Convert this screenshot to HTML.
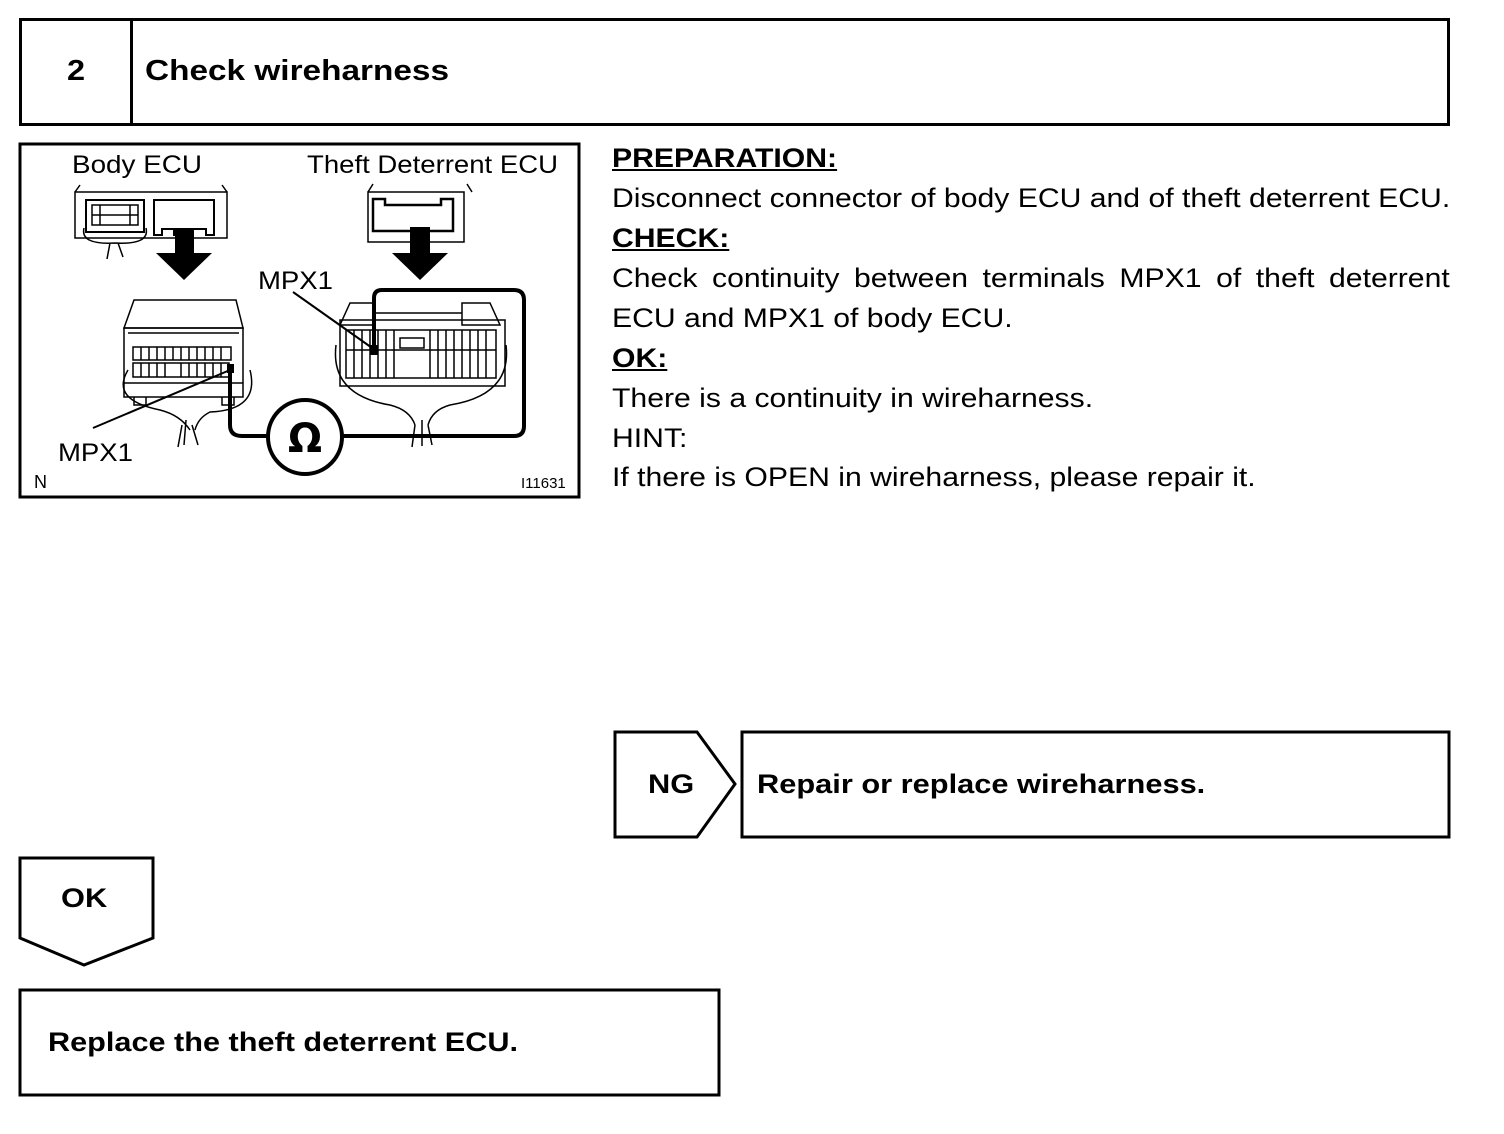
<!DOCTYPE html>
<html><head><style>
body{margin:0;width:1504px;height:1134px;background:#fff;position:relative;overflow:hidden;font-family:"Liberation Sans",Arial,sans-serif;color:#000}
.a{position:absolute;transform-origin:0 0;white-space:nowrap}
.t{position:absolute;left:612px;font-size:27px;line-height:40px;white-space:nowrap;transform:scaleX(1.117);transform-origin:0 0}
.b{font-weight:bold}
.u{text-decoration:underline;font-weight:bold}
</style></head><body>
<div class="a" style="left:19px;top:18px;width:1425px;height:102px;border:3px solid #000"></div>
<div class="a" style="left:130px;top:18px;width:3px;height:108px;background:#000"></div>
<div class="a b" style="left:67px;top:55px;font-size:29px;transform:scaleX(1.12)">2</div>
<div class="a b" style="left:145px;top:55px;font-size:29px;transform:scaleX(1.15)">Check wireharness</div>

<svg class="a" style="left:0;top:0" width="1504" height="1134">
<rect x="20" y="144" width="559" height="353" fill="none" stroke="#000" stroke-width="3"/>
<g font-family="Liberation Sans, Arial, sans-serif" font-size="25">
<text x="72" y="173" textLength="130" lengthAdjust="spacingAndGlyphs">Body ECU</text>
<text x="307" y="173" textLength="251" lengthAdjust="spacingAndGlyphs">Theft Deterrent ECU</text>
<text x="258" y="289" textLength="75" lengthAdjust="spacingAndGlyphs">MPX1</text>
<text x="58" y="461" textLength="75" lengthAdjust="spacingAndGlyphs">MPX1</text>
</g>
<text x="34" y="488" font-family="Liberation Sans" font-size="18">N</text>
<text x="521" y="488" font-family="Liberation Sans" font-size="15">I11631</text>
<g fill="none" stroke="#000" stroke-width="1.5">
<path d="M75 192 L80 185 M227 192 L222 185"/>
<rect x="75" y="192" width="152" height="46"/>
<rect x="86" y="200" width="58" height="32" stroke-width="2"/>
<path d="M92 205 h46 v20 h-46z M100 205 v20 M130 205 v20 M92 215 h46"/>
<path d="M154 200 h60 v35 h-8 v-6 h-20 v6 h-12 v-6 h-12 v6 h-8z" stroke-width="2"/>
<path d="M84 228 Q80 245 115 243 Q150 245 146 228 M110 243 l-3 16 M118 243 l5 14"/>
<path d="M368 192 L373 184 M472 192 L467 184"/>
<rect x="368" y="192" width="96" height="50"/>
<path d="M373 199 h12 v6 h56 v-6 h12 v32 h-80z" stroke-width="2.5"/>
<path d="M134 300 H236 L243 328 H124 Z"/>
<rect x="124" y="328" width="119" height="69"/>
<path d="M128 333 h111 M133 347 h98 v13 h-98z M133 363 h96 v14 h-96z M124 383 h119 M134 397 v8 h12 v-8 M222 397 v8 h12 v-8"/>
<path d="M141 347v13 M149 347v13 M157 347v13 M165 347v13 M173 347v13 M181 347v13 M189 347v13 M197 347v13 M205 347v13 M213 347v13 M221 347v13"/>
<path d="M141 363v14 M149 363v14 M157 363v14 M165 363v14 M181 363v14 M189 363v14 M197 363v14 M205 363v14 M213 363v14 M221 363v14"/>
<path d="M128 370 Q110 400 160 410 Q180 415 190 430 M250 370 Q260 410 210 412 Q198 418 195 430 M182 425 l-4 22 M192 425 l6 20 M186 420 l-2 25"/>
<path d="M350 303 H375 V325 H340 Z M462 303 H490 L500 325 H462 Z"/>
<rect x="340" y="320" width="165" height="66"/>
<path d="M375 313 H462"/>
<path d="M346 330 h150 v48 h-150z M346 350 h150"/>
<path d="M354 330v48 M362 330v48 M370 330v48 M378 330v48 M386 330v48 M394 330v48 M430 330v48 M438 330v48 M446 330v48 M454 330v48 M462 330v48 M470 330v48 M478 330v48 M486 330v48"/>
<path d="M400 338 h24 v10 h-24z"/>
<path d="M336 345 Q330 395 390 405 Q410 410 415 425 M506 345 Q512 395 450 405 Q432 410 428 425 M415 425 l-3 22 M428 425 l4 20 M422 420 v26"/>
<path d="M293 292 L375 350 M93 428 L230 370" stroke-width="2"/>
</g>
<rect x="227" y="364" width="7" height="9" fill="#000"/>
<rect x="370" y="345" width="8" height="10" fill="#000"/>
<path d="M230 370 V425 Q230 436 242 436 H268" fill="none" stroke="#000" stroke-width="4"/>
<path d="M342 436 H514 Q524 436 524 426 V300 Q524 290 514 290 H382 Q374 290 374 298 V350" fill="none" stroke="#000" stroke-width="4"/>
<circle cx="305" cy="437" r="37" fill="#fff" stroke="#000" stroke-width="4"/>
<text x="305" y="452" text-anchor="middle" font-family="DejaVu Sans" font-weight="bold" font-size="40">Ω</text>
<path d="M175 228 H194 V253 H212 L184 280 L156 253 H175Z M410 227 H430 V253 H448 L420 280 L392 253 H410Z" fill="#000"/>
<path d="M615 732 H697 L735 784 L697 837 H615 Z" fill="none" stroke="#000" stroke-width="3"/>
<rect x="742" y="732" width="707" height="105" fill="none" stroke="#000" stroke-width="3"/>
<path d="M20 858 H153 V938 L84 965 L20 938 Z" fill="none" stroke="#000" stroke-width="3"/>
<rect x="20" y="990" width="699" height="105" fill="none" stroke="#000" stroke-width="3"/>
</svg>

<div class="t u" style="top:138px">PREPARATION:</div>
<div class="t" style="top:178px">Disconnect connector of body ECU and of theft deterrent ECU.</div>
<div class="t u" style="top:218px">CHECK:</div>
<div class="t" style="top:258px;width:750px;text-align:justify;text-align-last:justify">Check continuity between terminals MPX1 of theft deterrent</div>
<div class="t" style="top:298px">ECU and MPX1 of body ECU.</div>
<div class="t u" style="top:338px">OK:</div>
<div class="t" style="top:378px">There is a continuity in wireharness.</div>
<div class="t" style="top:418px">HINT:</div>
<div class="t" style="top:457px">If there is OPEN in wireharness, please repair it.</div>

<div class="a b" style="left:648px;top:769px;font-size:27px;transform:scaleX(1.14)">NG</div>
<div class="a b" style="left:757px;top:769px;font-size:27px;transform:scaleX(1.14)">Repair or replace wireharness.</div>
<div class="a b" style="left:61px;top:883px;font-size:27px;transform:scaleX(1.14)">OK</div>
<div class="a b" style="left:48px;top:1027px;font-size:27px;transform:scaleX(1.135)">Replace the theft deterrent ECU.</div>
</body></html>
